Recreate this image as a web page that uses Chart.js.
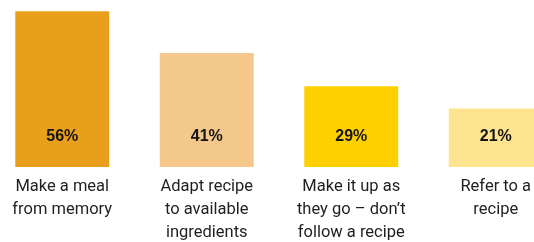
<!DOCTYPE html>
<html>
<head>
<meta charset="utf-8">
<script src="https://cdn.jsdelivr.net/npm/chart.js@4"></script>
<style>
  html, body { margin: 0; padding: 0; background: #ffffff; overflow: hidden; }
  #wrap { position: absolute; left: -10px; top: 0; width: 578px; height: 242px; }
</style>
</head>
<body>
<div id="wrap"><canvas id="chart"></canvas></div>
<script>
// Data
const categories = [
  ['Make a meal', 'from memory'],
  ['Adapt recipe', 'to available', 'ingredients'],
  ['Make it up as', 'they go \u2013 don\u2019t', 'follow a recipe'],
  ['Refer to a', 'recipe']
];
const shares = [56, 41, 29, 21];
const barColors = ['#E89F1B', '#F3C88A', '#FFD000', '#FFE48F'];

// draws the % value near the bottom of each bar
const valueLabels = {
  id: 'valueLabels',
  afterDatasetsDraw(chart) {
    const ctx = chart.ctx;
    const meta = chart.getDatasetMeta(0);
    ctx.save();
    ctx.font = 'bold 16px "Liberation Sans", Arial, sans-serif';
    ctx.fillStyle = '#141414';
    ctx.textAlign = 'center';
    ctx.textBaseline = 'middle';
    meta.data.forEach((bar, i) => {
      ctx.fillText(shares[i] + '%', bar.x, chart.chartArea.bottom - 30);
    });
    ctx.restore();
  }
};

new Chart(document.getElementById('chart'), {
  type: 'bar',
  data: {
    labels: categories,
    datasets: [{
      data: shares,
      backgroundColor: barColors,
      borderWidth: 0,
      categoryPercentage: 1,
      barPercentage: 0.65
    }]
  },
  options: {
    responsive: true,
    maintainAspectRatio: false,
    animation: false,
    layout: { padding: 0 },
    plugins: {
      legend: { display: false },
      tooltip: { enabled: false }
    },
    scales: {
      y: {
        display: false,
        min: 0,
        max: 60
      },
      x: {
        grid: { display: false, drawTicks: false },
        border: { display: false },
        afterFit(scale) { scale.height = 75; },
        ticks: {
          padding: 8,
          maxRotation: 0,
          autoSkip: false,
          color: '#1f1f1f',
          font: { family: 'Roboto, "Liberation Sans", Arial, sans-serif', size: 16.5, lineHeight: '23px' }
        }
      }
    }
  },
  plugins: [valueLabels]
});
</script>
</body>
</html>
